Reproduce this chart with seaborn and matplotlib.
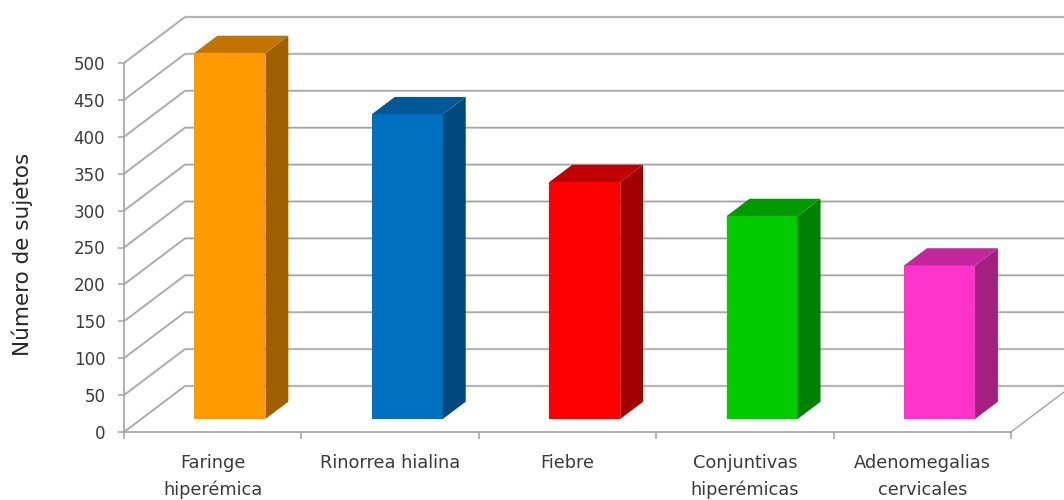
import numpy as np
import pandas as pd
import matplotlib
matplotlib.use("Agg")
import matplotlib.pyplot as plt
import matplotlib.transforms as mtransforms
from matplotlib.patches import Polygon
import seaborn as sns

# ---- data ----
categories = ["Faringe\nhiperémica", "Rinorrea hialina", "Fiebre",
              "Conjuntivas\nhiperémicas", "Adenomegalias\ncervicales"]
sujetos = [496, 413, 321, 275, 208]
front_colors = ["#FF9900", "#0070C0", "#FF0000", "#00CC00", "#FF33CC"]
top_colors = ["#C27400", "#00579A", "#C00000", "#009A00", "#C4279C"]
side_colors = ["#A06000", "#004880", "#A00000", "#008000", "#A3207F"]
y_ticks = list(range(0, 501, 50))

sns.set_theme(style="white")
plt.rcParams["font.family"] = ["DejaVu Sans"]

W, H = 1064, 500
fig = plt.figure(figsize=(W / 100, H / 100), dpi=100)
# front plane of the 3D box
ax_l, ax_b, ax_w, ax_h = 124, 68, 887, 369
ax = fig.add_axes([ax_l / W, ax_b / H, ax_w / W, ax_h / H])

df = pd.DataFrame({"sintoma": categories, "sujetos": sujetos})

sns.barplot(data=df, x="sintoma", y="sujetos", hue="sintoma",
            palette=front_colors, width=0.4, saturation=1, legend=False,
            linewidth=0, ax=ax, zorder=3)
ax.set_xlim(-0.5, 4.5)
ax.set_ylim(0, 500)

# depth vector of the floor, in data units
x_per_px = 5 / ax_w
y_per_px = 500 / ax_h
DEPTH = np.array([61 * x_per_px, 46 * y_per_px])
BAR_FRONT = 0.283   # fraction of the depth where bar fronts sit
BAR_DEPTH = 0.375   # bar thickness as fraction of depth

shift = mtransforms.Affine2D().translate(*(BAR_FRONT * DEPTH)) + ax.transData
bx, by = BAR_DEPTH * DEPTH

for patch, top_c, side_c in zip(ax.patches, top_colors, side_colors):
    patch.set_transform(shift)
    patch.set_clip_on(False)
    x0 = patch.get_x()
    w = patch.get_width()
    h = patch.get_height()
    side = Polygon([(x0 + w, 0), (x0 + w + bx, by), (x0 + w + bx, h + by), (x0 + w, h)],
                   closed=True, facecolor=side_c, edgecolor="none",
                   transform=shift, clip_on=False, zorder=3)
    top = Polygon([(x0, h), (x0 + w, h), (x0 + w + bx, h + by), (x0 + bx, h + by)],
                  closed=True, facecolor=top_c, edgecolor="none",
                  transform=shift, clip_on=False, zorder=3)
    ax.add_patch(side)
    ax.add_patch(top)

# walls: diagonal lines on the side wall and horizontal lines on the back wall
grid_c = "#a3a3a3"
far_x = 6.0
for v in y_ticks:
    xs = [-0.5, -0.5 + DEPTH[0], far_x]
    ys = [v, v + DEPTH[1], v + DEPTH[1]]
    ax.plot(xs, ys, color="#e4e4e4", lw=2.0, clip_on=False, zorder=1,
            solid_capstyle="butt")
    ax.plot(xs, ys, color=grid_c, lw=1.0, clip_on=False, zorder=1.1,
            solid_capstyle="butt")
# right edge of the floor
ax.plot([4.5, 4.5 + DEPTH[0]], [0, DEPTH[1]], color=grid_c, lw=1.0,
        clip_on=False, zorder=1.1)

# axes styling
for s in ["top", "right"]:
    ax.spines[s].set_visible(False)
for s in ["left", "bottom"]:
    ax.spines[s].set_color(grid_c)
    ax.spines[s].set_linewidth(1.2)
    ax.spines[s].set_zorder(1.2)

ax.set_yticks(y_ticks)
ax.tick_params(axis="y", which="major", left=True, length=4.5, width=1.1,
               color=grid_c, pad=9, labelsize=12, labelcolor="#3a3a3a")

ax.set_xticks(range(len(categories)))
ax.set_xticklabels(categories, fontsize=12.8, color="#3a3a3a", linespacing=1.6)
ax.set_xticks(np.arange(-0.5, len(categories), 1.0), minor=True)
ax.tick_params(axis="x", which="major", bottom=True, length=0, pad=16)
ax.tick_params(axis="x", which="minor", bottom=True, length=5, width=1.1,
               color=grid_c)
ax.set_xlabel("")

ax.set_ylabel("Número de sujetos", fontsize=15.5, color="#262626")
ax.yaxis.label.set_va("center")
ax.yaxis.set_label_coords((22 - ax_l) / ax_w, (432 - 254.5) / ax_h)

ax.set_facecolor("none")
fig.patch.set_facecolor("white")
fig.savefig("out.png", dpi=100, facecolor="white")
